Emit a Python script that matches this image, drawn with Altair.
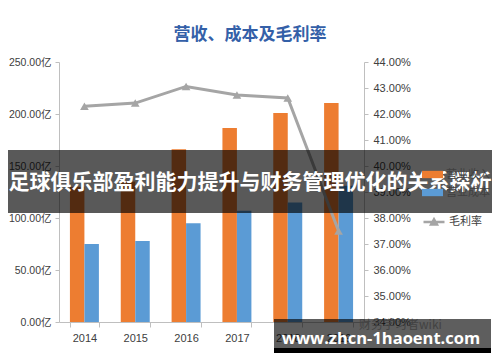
import altair as alt
import pandas as pd

years = ["2014", "2015", "2016", "2017", "2018", "2019"]
revenue = [130, 135, 166, 186.5, 201, 210.5]
cost = [75, 78, 95, 107, 115, 131]
margin = [0.423, 0.4242, 0.4306, 0.4273, 0.4262, 0.375]
series_names = ["营业收入", "营业成本"]
line_name = "毛利率"
bar_colors = ["#ED7D31", "#5B9BD5"]
line_color = "#A5A5A5"
left_ticks = [0, 50, 100, 150, 200, 250]
right_ticks = [0.34, 0.35, 0.36, 0.37, 0.38, 0.39, 0.40, 0.41, 0.42, 0.43, 0.44]
chart_title = "营收、成本及毛利率"
banner_text = "足球俱乐部盈利能力提升与财务管理优化的关系探析"
wm_text = "www.zhcn-1haoent.com"
wm_faint = "财务学习者wiki"

FONT = "Noto Sans CJK SC"
AXFONT = "Liberation Sans, Noto Sans CJK SC"

bars_df = pd.DataFrame({
    "year": years + years,
    "series": [series_names[0]] * len(years) + [series_names[1]] * len(years),
    "value": revenue + cost,
})
line_df = pd.DataFrame({"year": years, "margin": margin, "name": [line_name] * len(years)})
one = pd.DataFrame({"a": [0]})

x_enc = alt.X(
    "year:N",
    sort=years,
    scale=alt.Scale(paddingInner=0.43, paddingOuter=0.215),
    axis=alt.Axis(title=None, labelAngle=0, tickBand="extent", tickSize=5, labelPadding=5,
                  labelFont=AXFONT, labelFontSize=11),
)

bars = alt.Chart(bars_df).mark_bar().encode(
    x=x_enc,
    xOffset=alt.XOffset("series:N", sort=series_names,
                        scale=alt.Scale(domain=series_names, paddingInner=0, paddingOuter=0)),
    y=alt.Y("value:Q", scale=alt.Scale(domain=[0, 250], nice=False),
            axis=alt.Axis(title=None, values=left_ticks, tickSize=4, labelPadding=4,
                          labelOverlap=False, labelFont=AXFONT, labelFontSize=10.5,
                          labelExpr="format(datum.value, '.2f') + '亿'")),
    color=alt.Color("series:N", scale=alt.Scale(domain=series_names, range=bar_colors),
                    legend=alt.Legend(title=None, orient="none", legendX=363, legendY=102,
                                      symbolType="M-1,-0.35L1,-0.35L1,0.35L-1,0.35Z",
                                      symbolSize=441, symbolStrokeWidth=0, rowPadding=2,
                                      labelOffset=3, padding=0, labelFontSize=11,
                                      labelColor="#404040", labelFont=FONT)),
)

y_right = alt.Y("margin:Q", scale=alt.Scale(domain=[0.34, 0.44], nice=False, zero=False),
                axis=alt.Axis(title=None, orient="right", values=right_ticks, format=".2%",
                              tickSize=4, labelPadding=5, labelOverlap=False,
                              labelFont=AXFONT, labelFontSize=11))

base_right = alt.Chart(line_df).encode(x=alt.X("year:N", sort=years), y=y_right)

line = base_right.mark_line(strokeWidth=3).encode(
    stroke=alt.Stroke("name:N", scale=alt.Scale(domain=[line_name], range=[line_color]),
                      legend=alt.Legend(title=None, orient="none", legendX=363, legendY=148,
                                        symbolType="M-1,0L1,0M-0.28,0.24L0,-0.26L0.28,0.24Z",
                                        symbolSize=441, symbolStrokeWidth=2.5,
                                        symbolFillColor=line_color, symbolStrokeColor=line_color,
                                        labelOffset=3, padding=0, labelFontSize=11,
                                        labelColor="#404040", labelFont=FONT)),
)
points = base_right.mark_point(shape="triangle-up", filled=True, size=75, opacity=1,
                               color=line_color)

right_layer = alt.layer(line, points)

title_mark = alt.Chart(one).mark_text(font=FONT, fontSize=17, fontWeight="bold", color="#3460A8",
                                      align="center", baseline="middle").encode(
    x=alt.value(191), y=alt.value(-27), text=alt.value(chart_title))

faint = alt.Chart(one).mark_text(font=FONT, fontSize=12, color="#B5B5B5", align="left",
                                 baseline="middle").encode(
    x=alt.value(300), y=alt.value(263), text=alt.value(wm_faint))

banner_rect = alt.Chart(one).mark_rect(color="#000000", opacity=0.65).encode(
    x=alt.value(-51), x2=alt.value(433), y=alt.value(88), y2=alt.value(151))
banner_txt = alt.Chart(one).mark_text(font=FONT, fontSize=21, fontWeight="bold", color="#FFFFFF",
                                      align="center", baseline="middle").encode(
    x=alt.value(191), y=alt.value(121), text=alt.value(banner_text))

wm_rect = alt.Chart(one).mark_rect(color="#000000", opacity=0.63).encode(
    x=alt.value(215), x2=alt.value(432), y=alt.value(257), y2=alt.value(286))
wm_strip = alt.Chart(one).mark_rect(color="#000000", opacity=1).encode(
    x=alt.value(215), x2=alt.value(432), y=alt.value(286), y2=alt.value(291))
wm_txt = alt.Chart(one).mark_text(font="Open Sans", fontSize=16.5, fontWeight="bold", color="#FFFFFF",
                                  align="center", baseline="middle").encode(
    x=alt.value(322), y=alt.value(277), text=alt.value(wm_text))

chart = alt.layer(
    bars, right_layer, title_mark, faint, banner_rect, banner_txt, wm_rect, wm_strip, wm_txt
).resolve_scale(
    y="independent", color="independent", stroke="independent"
).properties(
    width=305, height=260,
    autosize=alt.AutoSizeParams(type="none"),
    padding={"left": 51, "top": 54, "right": 128, "bottom": 32},
).configure_view(
    strokeWidth=0
).configure_axis(
    grid=False, domainColor="#BFBFBF", tickColor="#BFBFBF", labelColor="#404040"
)

chart.save("out.html", embed_options={"renderer": "svg", "actions": False})
